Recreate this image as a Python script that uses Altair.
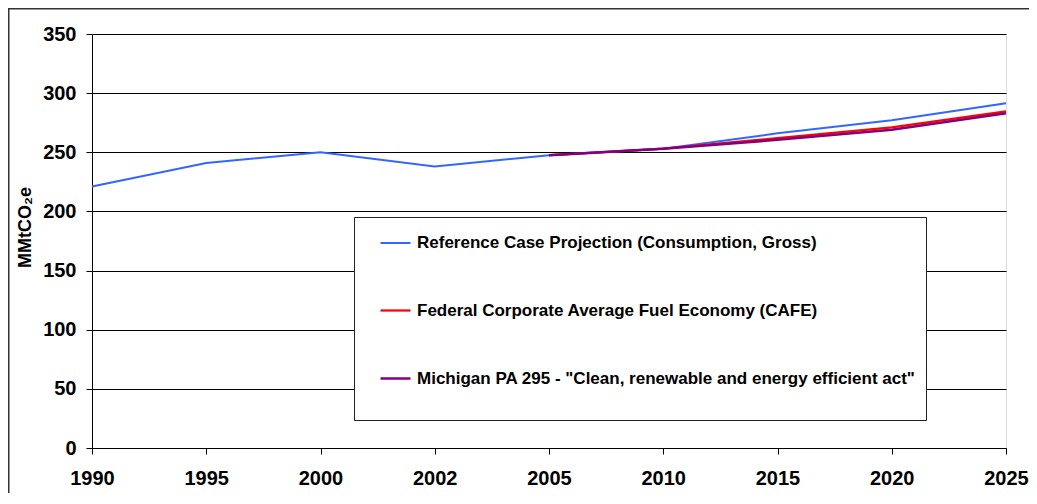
import altair as alt
import pandas as pd

years = ["1990", "1995", "2000", "2002", "2005", "2010", "2015", "2020", "2025"]
series_names = [
    "Reference Case Projection (Consumption, Gross)",
    "Federal Corporate Average Fuel Economy (CAFE)",
    'Michigan PA 295 - "Clean, renewable and energy efficient act"',
]
reference = [221, 241, 250, 238, 247.5, 253, 266, 277, 291.5]
cafe_years = ["2005", "2010", "2015", "2020", "2025"]
cafe = [247.5, 253, 262, 271, 284.5]
michigan = [247.5, 253, 260.5, 269, 283]
y_ticks = [0, 50, 100, 150, 200, 250, 300, 350]
colors = ["#3366FF", "#FF0000", "#800080"]
widths = [2, 2.5, 3.5]

rows = []
for y, v in zip(years, reference):
    rows.append({"year": y, "value": v, "series": series_names[0]})
for y, v in zip(cafe_years, cafe):
    rows.append({"year": y, "value": v, "series": series_names[1]})
for y, v in zip(cafe_years, michigan):
    rows.append({"year": y, "value": v, "series": series_names[2]})
df = pd.DataFrame(rows)

FONT = "Liberation Sans"

legend = alt.Legend(title="\u00a0", titleOrient="bottom", titleFontSize=10,
                    titlePadding=13, orient="none", legendX=262, legendY=183,
                    padding=10, symbolOffset=15, rowPadding=43,
                    labelFont=FONT, labelFontSize=17, labelFontWeight="bold",
                    labelColor="black", labelLimit=800,
                    symbolType="stroke", symbolSize=900,
                    labelOffset=5, strokeColor="#222", fillColor="white")

lines = alt.Chart(df).mark_line().encode(
    x=alt.X("year:O", sort=years, scale=alt.Scale(type="point", padding=0),
            axis=alt.Axis(title=None, labelAngle=0, labelFontSize=20, labelFont=FONT,
                          labelFontWeight="bold", labelColor="black", tickSize=6,
                          tickColor="black", domainColor="black", labelPadding=14,
                          grid=False)),
    y=alt.Y("value:Q", scale=alt.Scale(domain=[0, 350], nice=False),
            axis=alt.Axis(title="MMtCO₂e", values=y_ticks, labelFontSize=20, labelFont=FONT,
                          labelFontWeight="bold", labelColor="black", tickSize=6,
                          tickColor="black", domainColor="black", labelPadding=10,
                          gridColor="black", gridWidth=1, titleFont=FONT,
                          titleFontSize=18, titleFontWeight="bold", titleColor="black",
                          titleAngle=270, titleX=-67, titleY=193, titleAlign="center",
                          titleBaseline="middle")),
    color=alt.Color("series:N", sort=series_names,
                    scale=alt.Scale(domain=series_names, range=colors),
                    legend=legend),
    strokeWidth=alt.StrokeWidth("series:N", sort=series_names,
                                scale=alt.Scale(domain=series_names, range=widths),
                                legend=legend),
)

frame = alt.Chart(pd.DataFrame({"a": [0]})).mark_rect(
    fill=None, stroke="#333", strokeWidth=2, clip=False
).encode(x=alt.value(-83.5), x2=alt.value(960), y=alt.value(-25.5), y2=alt.value(470))

chart = alt.layer(frame, lines).properties(
    width=914, height=414,
    padding={"left": 84, "top": 26, "right": 23, "bottom": 45},
    autosize=alt.AutoSizeParams(type="none"),
).configure_view(stroke="black", strokeWidth=1).configure(background="white")

chart.save("out.html", embed_options={"renderer": "svg", "actions": False})
